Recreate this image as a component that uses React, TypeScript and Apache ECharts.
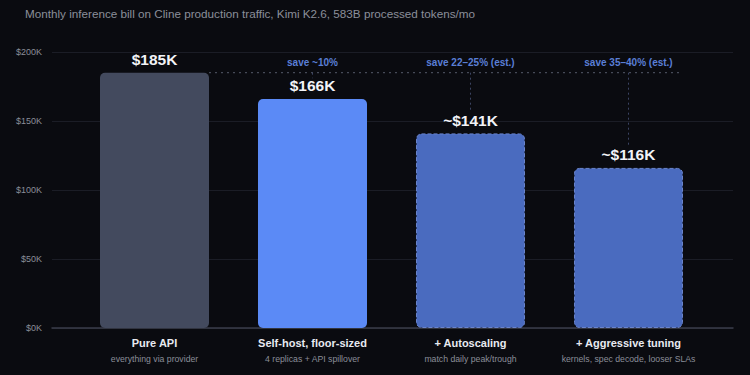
import React, { useEffect, useRef } from "react";
import * as echarts from "echarts";

const subtitle =
  "Monthly inference bill on Cline production traffic, Kimi K2.6, 583B processed tokens/mo";
const categories = ["Pure API", "Self-host, floor-sized", "+ Autoscaling", "+ Aggressive tuning"];
const subLabels = [
  "everything via provider",
  "4 replicas + API spillover",
  "match daily peak/trough",
  "kernels, spec decode, looser SLAs",
];
const values = [185, 166, 141, 116];
const valueLabels = ["$185K", "$166K", "~$141K", "~$116K"];
const savings = ["", "save ~10%", "save 22–25% (est.)", "save 35–40% (est.)"];
const yMax = 200;
const yInterval = 50;

const BG = "#0a0b10";
const barColors = ["#434a5e", "#5b8af6", "#4a6bbf", "#4a6bbf"];
const dashed = [false, false, true, true];
const BAR_FRAC = 0.69;

export default function App() {
  const ref = useRef<HTMLDivElement>(null);
  useEffect(() => {
    document.body.style.margin = "0";
    document.body.style.background = BG;
    if (!ref.current) return;
    const chart = echarts.init(ref.current, null, { renderer: "svg" });
    const font = "Liberation Sans, Arial, Helvetica, sans-serif";
    const baseline = values[0];
    const half = BAR_FRAC / 2;

    chart.setOption({
      animation: false,
      backgroundColor: BG,
      textStyle: { fontFamily: font },
      title: {
        text: subtitle,
        left: 25,
        top: 7,
        padding: 0,
        textStyle: { fontSize: 11.7, fontWeight: "normal", color: "#8b8f9a", fontFamily: font },
      },
      grid: [
        { left: 75.5, right: 42.5, top: 52, bottom: 47 },
        { left: 52, right: 17, top: 52, bottom: 47 },
      ],
      xAxis: [
        {
          type: "category",
          gridIndex: 0,
          data: categories,
          axisLine: { show: false },
          axisTick: { show: false },
          axisLabel: {
            margin: 7,
            interval: 0,
            formatter: (v: string, i: number) => `{a|${v}}\n{b|${subLabels[i]}}`,
            rich: {
              a: { fontSize: 11, fontWeight: "bold", color: "#e8eaf0", lineHeight: 16, fontFamily: font },
              b: { fontSize: 8.7, color: "#8a8e99", lineHeight: 15, fontFamily: font },
            },
          },
        },
        { type: "value", gridIndex: 0, min: 0, max: categories.length, show: false },
        {
          type: "value",
          gridIndex: 1,
          min: 0,
          max: 1,
          axisLine: { show: true, lineStyle: { color: "#3a3d49", width: 1.5 } },
          axisTick: { show: false },
          axisLabel: { show: false },
          splitLine: { show: false },
        },
      ],
      yAxis: [
        { type: "value", gridIndex: 0, min: 0, max: yMax, interval: yInterval, show: false },
        {
          type: "value",
          gridIndex: 1,
          min: 0,
          max: yMax,
          interval: yInterval,
          axisLine: { show: false },
          axisTick: { show: false },
          axisLabel: {
            margin: 10,
            fontSize: 9,
            color: "#8a8e99",
            fontFamily: font,
            formatter: (v: number) => `$${v}K`,
          },
          splitLine: { lineStyle: { color: "#1b1d26", width: 1 } },
        },
      ],
      series: [
        {
          type: "bar",
          xAxisIndex: 0,
          yAxisIndex: 0,
          barWidth: `${BAR_FRAC * 100}%`,
          data: values.map((v, i) => ({
            value: v,
            itemStyle: {
              color: barColors[i],
              borderRadius: 5,
              borderColor: dashed[i] ? "#6a84cc" : barColors[i],
              borderWidth: dashed[i] ? 1 : 0,
              borderType: dashed[i] ? "dashed" : "solid",
            },
          })),
          label: {
            show: true,
            position: "top",
            distance: 5,
            fontSize: 15.5,
            fontWeight: "bold",
            color: "#f2f3f7",
            fontFamily: font,
            formatter: (p: any) => valueLabels[p.dataIndex],
          },
          markLine: {
            silent: true,
            symbol: ["none", "none"],
            lineStyle: { color: "#3b4462", type: [2, 3], width: 1 },
            label: {
              show: true,
              position: "start",
              distance: 5,
              formatter: "{b}",
              fontSize: 10,
              fontWeight: "bold",
              color: "#5a7fd6",
              fontFamily: font,
            },
            data: values
              .map((v, i) => i)
              .filter((i) => savings[i])
              .map((i) => [
                { name: savings[i], coord: [i, baseline] },
                { coord: [i, values[i] + 15] },
              ]),
          },
        },
        {
          type: "line",
          xAxisIndex: 1,
          yAxisIndex: 0,
          silent: true,
          showSymbol: false,
          symbol: "none",
          lineStyle: { color: "#555a69", type: [2, 4], width: 1 },
          data: [
            [0.5 + half, baseline],
            [categories.length - 0.5 + half, baseline],
          ],
        },
      ],
    });
    return () => chart.dispose();
  }, []);

  return (
    <div
      ref={ref}
      style={{ position: "absolute", left: 0, top: 0, width: 750, height: 375 }}
    />
  );
}
